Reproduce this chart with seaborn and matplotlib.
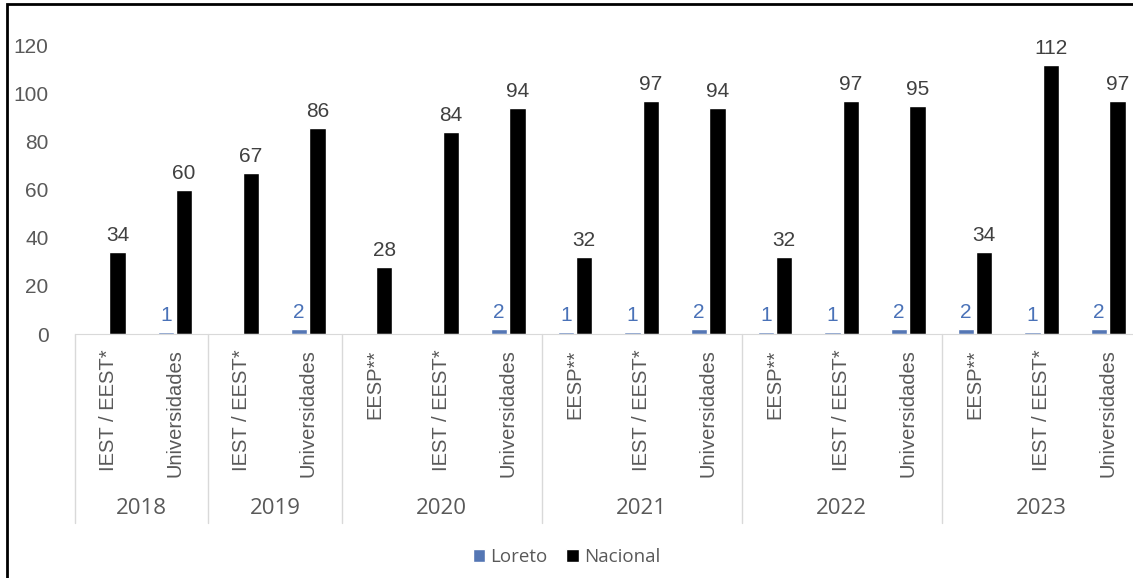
import numpy as np
import pandas as pd
import matplotlib.pyplot as plt
import matplotlib.transforms as mtransforms
from matplotlib.patches import Rectangle
import seaborn as sns

# Datos
anios = ["2018", "2018", "2019", "2019", "2020", "2020", "2020",
         "2021", "2021", "2021", "2022", "2022", "2022", "2023", "2023", "2023"]
tipos = ["IEST / EEST*", "Universidades", "IEST / EEST*", "Universidades",
         "EESP**", "IEST / EEST*", "Universidades",
         "EESP**", "IEST / EEST*", "Universidades",
         "EESP**", "IEST / EEST*", "Universidades",
         "EESP**", "IEST / EEST*", "Universidades"]
loreto = [np.nan, 1, np.nan, 2, np.nan, np.nan, 2, 1, 1, 2, 1, 1, 2, 2, 1, 2]
nacional = [34, 60, 67, 86, 28, 84, 94, 32, 97, 94, 32, 97, 95, 34, 112, 97]
anios_unicos = ["2018", "2019", "2020", "2021", "2022", "2023"]

claves = [f"{a}|{t}" for a, t in zip(anios, tipos)]
df = pd.concat([
    pd.DataFrame({"clave": claves, "Ámbito": "Loreto", "valor": loreto}),
    pd.DataFrame({"clave": claves, "Ámbito": "Nacional", "valor": nacional}),
], ignore_index=True)

sns.set_style("white")
plt.rcParams["font.family"] = ["Liberation Sans", "DejaVu Sans"]

gris = "#595959"
azul = "#4472C4"

fig = plt.figure(figsize=(11.33, 5.78), dpi=100)
ax = fig.add_axes([75 / 1133, 1 - 334 / 578, 1066.7 / 1133, 312 / 578])

sns.barplot(data=df, x="clave", y="valor", hue="Ámbito", order=claves,
            hue_order=["Loreto", "Nacional"], palette=[azul, "black"],
            width=0.55, gap=0.12, ax=ax, legend=True)

ax.set_ylim(0, 130)
ax.set_xlim(-0.5, len(claves) - 0.5)
ax.set_yticks([0, 20, 40, 60, 80, 100, 120])
ax.tick_params(axis="y", length=0, pad=19, labelsize=15, labelcolor=gris)
ax.set_xlabel("")
ax.set_ylabel("")
for s in ["top", "right", "left"]:
    ax.spines[s].set_visible(False)
ax.spines["bottom"].set_color("#d9d9d9")

# Etiquetas de datos
colores_lbl = ["#4a72b8", "#404040"]
for cont, col in zip(ax.containers, colores_lbl):
    etiquetas = ["" if np.isnan(v) else f"{v:.0f}" for v in cont.datavalues]
    ax.bar_label(cont, labels=etiquetas, padding=5, fontsize=15, color=col)

# Eje x multinivel
ax.set_xticks(range(len(claves)))
ax.set_xticklabels(tipos, rotation=90, va="top", ha="center",
                   fontsize=14.5, color=gris)
ax.tick_params(axis="x", length=0, pad=11)

trans = mtransforms.blended_transform_factory(ax.transData, ax.transAxes)
limites = [-0.5]
for a in anios_unicos:
    idx = [i for i, x in enumerate(anios) if x == a]
    ax.text(np.mean(idx), -0.558, a, transform=trans, ha="center", va="center",
            fontsize=16, color=gris, family=["Open Sans", "DejaVu Sans"])
    limites.append(idx[-1] + 0.5)
for b in limites:
    ax.plot([b, b], [0, -0.606], transform=trans, color="#d9d9d9",
            lw=1, clip_on=False)

# Leyenda
handles, labels = ax.get_legend_handles_labels()
ax.legend(handles, labels, loc="center", bbox_to_anchor=(0.5, 1 - 557 / 578),
          bbox_transform=fig.transFigure, ncol=2, frameon=False,
          handlelength=0.65, handleheight=0.65, handletextpad=0.3,
          columnspacing=1.0, prop={"family": "Open Sans", "size": 13.5},
          labelcolor=gris)

# Marco de la figura
fig.patches.append(Rectangle((7 / 1133, -0.1), 1.1, 1.1 - 5 / 578 + 0.001,
                             transform=fig.transFigure, fill=False,
                             edgecolor="black", lw=2, clip_on=False))

fig.savefig("out.png", dpi=100)
